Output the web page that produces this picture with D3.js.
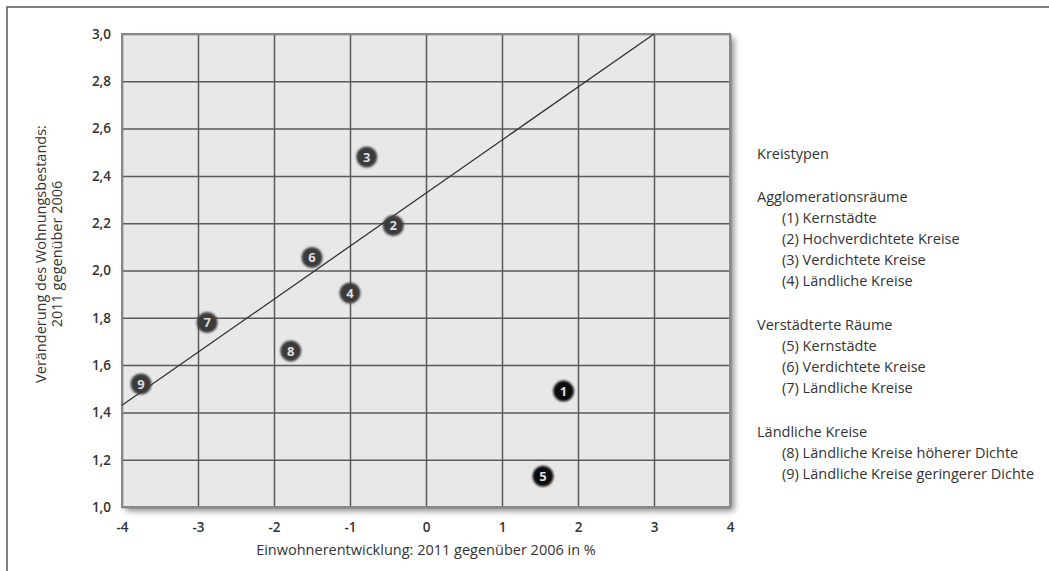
<!DOCTYPE html>
<html>
<head>
<meta charset="utf-8">
<script src="https://cdn.jsdelivr.net/npm/d3@7"></script>
<style>
  html, body { margin: 0; padding: 0; background: #fff; }
  svg { display: block; font-family: "Open Sans", "DejaVu Sans", sans-serif; }
</style>
</head>
<body>
<svg id="chart" width="1049" height="571"></svg>
<script>
// ---- Data ----
const pointIds = [1, 2, 3, 4, 5, 6, 7, 8, 9];
const pointX   = [1.81, -0.43, -0.78, -1.0, 1.54, -1.5, -2.88, -1.78, -3.75];
const pointY   = [1.49, 2.19, 2.48, 1.905, 1.13, 2.055, 1.78, 1.66, 1.52];
const darkIds  = [1, 5];
const trendX   = [-4, 3];
const trendY   = [1.43, 3.0];
const xTicks   = [-4, -3, -2, -1, 0, 1, 2, 3, 4];
const yTicks   = [1.0, 1.2, 1.4, 1.6, 1.8, 2.0, 2.2, 2.4, 2.6, 2.8, 3.0];
const xTitle   = "Einwohnerentwicklung: 2011 gegenüber 2006 in %";
const yTitle   = ["Veränderung des Wohnungsbestands:", "2011 gegenüber 2006"];
const legendTitle = "Kreistypen";
const legendGroups = ["Agglomerationsräume", "Verstädterte Räume", "Ländliche Kreise"];
const legendItems = [
  ["(1) Kernstädte", "(2) Hochverdichtete Kreise", "(3) Verdichtete Kreise", "(4) Ländliche Kreise"],
  ["(5) Kernstädte", "(6) Verdichtete Kreise", "(7) Ländliche Kreise"],
  ["(8) Ländliche Kreise höherer Dichte", "(9) Ländliche Kreise geringerer Dichte"]
];

// ---- Layout ----
const svg = d3.select("#chart");
const plot = { left: 122, right: 730, top: 34, bottom: 507 };
const x = d3.scaleLinear().domain([-4, 4]).range([plot.left, plot.right]);
const y = d3.scaleLinear().domain([1.0, 3.0]).range([plot.bottom, plot.top]);

const defs = svg.append("defs");
const f = defs.append("filter").attr("id", "shadow")
  .attr("x", "-5%").attr("y", "-5%").attr("width", "115%").attr("height", "115%");
f.append("feDropShadow").attr("dx", 4).attr("dy", 4).attr("stdDeviation", 3)
  .attr("flood-color", "#000").attr("flood-opacity", 0.45);
const f2 = defs.append("filter").attr("id", "mshadow")
  .attr("x", "-50%").attr("y", "-50%").attr("width", "200%").attr("height", "200%");
f2.append("feGaussianBlur").attr("stdDeviation", 0.8);

// outer frame (top + left)
svg.append("path")
  .attr("d", "M7,571 L7,7 L1049,7")
  .attr("fill", "none").attr("stroke", "#555").attr("stroke-width", 1.5);

// plot background with shadow
svg.append("rect")
  .attr("x", plot.left).attr("y", plot.top)
  .attr("width", plot.right - plot.left).attr("height", plot.bottom - plot.top)
  .attr("fill", "#e8e8e8").attr("filter", "url(#shadow)");

// grid via axes
const gx = svg.append("g").attr("transform", `translate(0,${plot.bottom})`)
  .call(d3.axisBottom(x).tickValues(xTicks).tickSize(-(plot.bottom - plot.top)).tickFormat(""));
gx.select(".domain").remove();
gx.selectAll("line").attr("stroke", "#5a5a5a").attr("stroke-width", 1.5);

const gy = svg.append("g").attr("transform", `translate(${plot.left},0)`)
  .call(d3.axisLeft(y).tickValues(yTicks).tickSize(-(plot.right - plot.left)).tickFormat(""));
gy.select(".domain").remove();
gy.selectAll("line").attr("stroke", "#5a5a5a").attr("stroke-width", 1.5);

// plot border
svg.append("rect")
  .attr("x", plot.left).attr("y", plot.top)
  .attr("width", plot.right - plot.left).attr("height", plot.bottom - plot.top)
  .attr("fill", "none").attr("stroke", "#888").attr("stroke-width", 2);

// tick labels
const lx = svg.append("g").attr("transform", `translate(0,${plot.bottom})`)
  .call(d3.axisBottom(x).tickValues(xTicks).tickSize(0).tickPadding(15)
    .tickFormat(d => d < 0 ? "-" + Math.abs(d) : String(d)));
lx.select(".domain").remove();
lx.selectAll("text").attr("font-family", "Open Sans, sans-serif").attr("font-size", 13.5)
  .attr("font-weight", 600).attr("fill", "#333");

const ly = svg.append("g").attr("transform", `translate(${plot.left},0)`)
  .call(d3.axisLeft(y).tickValues(yTicks).tickSize(0).tickPadding(11)
    .tickFormat(d => d3.format(".1f")(d).replace(".", ",")));
ly.select(".domain").remove();
ly.selectAll("text").attr("font-family", "Open Sans, sans-serif").attr("font-size", 13.5)
  .attr("font-weight", 600).attr("fill", "#333");

// axis titles
svg.append("text").attr("x", (plot.left + plot.right) / 2).attr("y", 555)
  .attr("text-anchor", "middle").attr("font-size", 14.5).attr("fill", "#333")
  .text(xTitle);
const yt = svg.append("text").attr("transform", "translate(46,254) rotate(-90)")
  .attr("text-anchor", "middle").attr("font-size", 14.5).attr("fill", "#333");
yTitle.forEach((t, i) => yt.append("tspan").attr("x", 0).attr("dy", i === 0 ? 0 : 16).text(t));

// trend line
svg.append("line")
  .attr("x1", x(trendX[0])).attr("y1", y(trendY[0]))
  .attr("x2", x(trendX[1])).attr("y2", y(trendY[1]))
  .attr("stroke", "#333").attr("stroke-width", 1.3);

// points
const pts = pointIds.map((id, i) => ({ id, x: pointX[i], y: pointY[i] }));
const pg = svg.append("g").selectAll("g").data(pts).join("g")
  .attr("transform", d => `translate(${x(d.x)},${y(d.y)})`);
pg.append("circle").attr("r", 10.5)
  .attr("fill", d => darkIds.includes(d.id) ? "#111" : "#3a3a3a")
  .attr("filter", "url(#mshadow)");
pg.append("text").attr("text-anchor", "middle").attr("dy", "0.36em")
  .attr("font-size", 13).attr("font-weight", 700).attr("fill", "#ddd")
  .text(d => d.id);

// legend
const lg = svg.append("g").attr("font-size", 14.5).attr("fill", "#333");
lg.append("text").attr("x", 757).attr("y", 159).attr("font-weight", 500).text(legendTitle);
let cy = 202;
legendGroups.forEach((g, gi) => {
  lg.append("text").attr("x", 757).attr("y", cy).attr("font-weight", 500).text(g);
  legendItems[gi].forEach((it, k) => {
    lg.append("text").attr("x", 782).attr("y", cy + 21 * (k + 1)).text(it);
  });
  cy += 21 * (legendItems[gi].length + 1) + 23;
});
</script>
</body>
</html>
